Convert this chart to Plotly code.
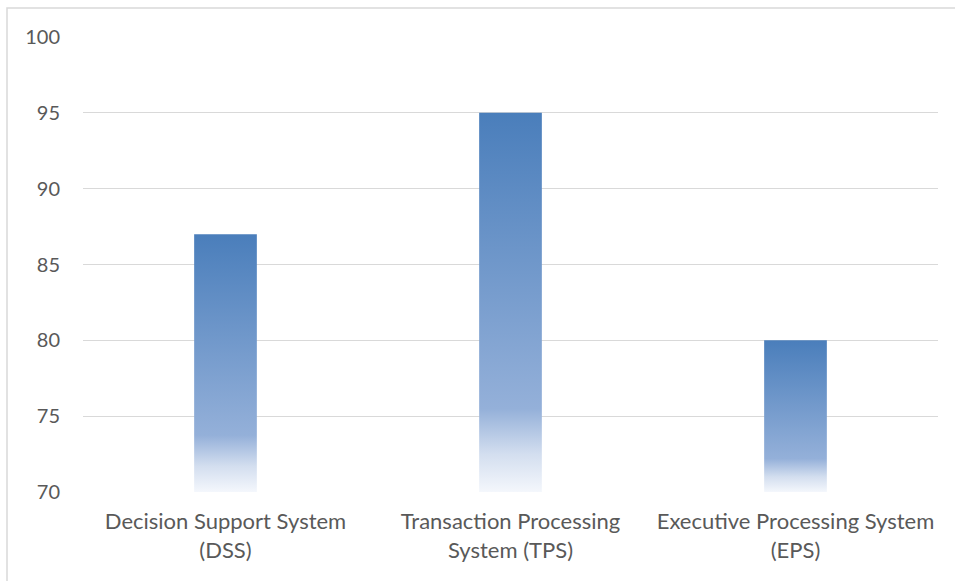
import plotly.graph_objects as go

# Data
categories = [
    "Decision Support System<br>(DSS)",
    "Transaction Processing<br>System (TPS)",
    "Executive Processing System<br>(EPS)",
]
values = [87, 95, 80]
y_ticks = [70, 75, 80, 85, 90, 95, 100]

BASE = 70
HALF_W = 0.11
gradient = [
    [0.0, "#f4f7fc"],
    [0.10, "#d3deef"],
    [0.22, "#94b0d9"],
    [1.0, "#4a7ebb"],
]

fig = go.Figure()
for i, v in enumerate(values):
    fig.add_trace(go.Scatter(
        x=[i - HALF_W, i + HALF_W, i + HALF_W, i - HALF_W, i - HALF_W],
        y=[BASE, BASE, v, v, BASE],
        mode="lines",
        line=dict(width=0),
        fill="toself",
        fillgradient=dict(type="vertical", start=BASE, stop=v, colorscale=gradient),
        hoverinfo="skip",
        showlegend=False,
    ))

font_family = "Lato, 'Open Sans', sans-serif"

fig.update_layout(
    width=955, height=581,
    margin=dict(l=83, r=17, t=37, b=89),
    paper_bgcolor="white", plot_bgcolor="white",
    font=dict(family=font_family, size=20, color="#595959"),
    xaxis=dict(
        range=[-0.5, 2.5],
        tickmode="array", tickvals=list(range(len(categories))), ticktext=categories,
        showgrid=False, zeroline=False, showline=False, ticks="",
        ticklabelstandoff=14,
        tickfont=dict(size=22, color="#595959"),
        fixedrange=True,
    ),
    yaxis=dict(
        range=[70, 100],
        tickmode="array", tickvals=y_ticks,
        showgrid=True, gridcolor="#d9d9d9", gridwidth=1.3,
        zeroline=False, showline=False, ticks="",
        ticklabelstandoff=22,
        tickfont=dict(size=20, color="#595959"),
        fixedrange=True,
    ),
    shapes=[
        dict(type="rect", xref="paper", yref="paper",
             x0=-76 / 855, x1=1.2, y0=-1.0, y1=1 + 29 / 455,
             line=dict(color="#d9d9d9", width=1.5), fillcolor="rgba(0,0,0,0)",
             layer="below"),
    ],
)

fig.write_html("out.html")
